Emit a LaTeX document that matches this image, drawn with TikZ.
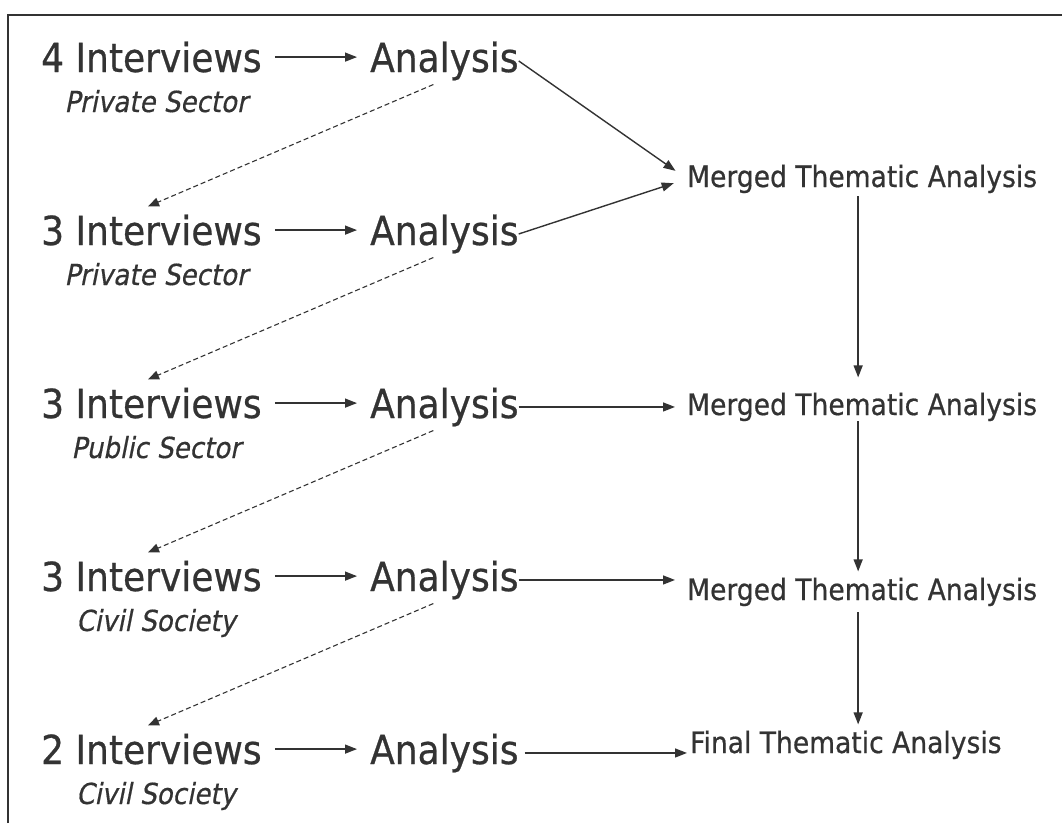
\documentclass[tikz,border=0pt]{standalone}
\usepackage{fontspec}
\usepackage{tikz}
\usetikzlibrary{arrows.meta}
\usepackage{xcolor}
\setmainfont[FakeStretch=0.9,FakeBold=0.6]{DejaVu Sans}
\newfontfamily\slfont[FakeStretch=0.9,FakeSlant=0.2,FakeBold=0.5]{DejaVu Sans}
\definecolor{ink}{HTML}{333333}

\begin{document}
\begin{tikzpicture}[x=1pt,y=-1pt,
  big/.style={inner sep=0pt,text=ink,font=\fontsize{40}{48}\selectfont},
  sub/.style={inner sep=0pt,text=ink,font=\slfont\fontsize{29}{35}\selectfont},
  mta/.style={inner sep=0pt,text=ink,font=\fontsize{29.5}{35}\selectfont},
  arr/.style={draw=ink,line width=1.4pt,-{Triangle[length=12pt,width=9pt]}},
  dasharr/.style={draw=ink,line width=1.1pt,dash pattern=on 5pt off 3pt,-{Triangle[length=11pt,width=9pt]}}]
 \pgfmathsetmacro{\dy}{173}
 \useasboundingbox (0,0) rectangle (1062,823);
 \draw[ink,line width=1.8pt] (8,823) -- (8,15) -- (1062,15);

 \foreach \n/\k/\who in {1/4/Private Sector,2/3/Private Sector,3/3/Public Sector,4/3/Civil Society,5/2/Civil Society}{
  \pgfmathsetmacro{\yb}{72+(\n-1)*\dy}
  \node[big,anchor=base west] (int\n) at (41,\yb) {\k{} Interviews};
  \node[big,anchor=base west] (ana\n) at (370,\yb) {Analysis};
  \node[sub,anchor=base] (sec\n) at (156,\yb+40) {\who};
  \draw[arr,shorten <=13pt,shorten >=13pt] (int\n.east) -- (int\n.east -| ana\n.west);
 }

 \foreach \n in {1,...,4}{
  \pgfmathsetmacro{\m}{int(\n+1)}
  \draw[dasharr] ([xshift=-11pt,yshift=-4pt]ana\n.south) -- ([xshift=107pt,yshift=8pt]int\m.north west);
 }

 \node[mta,anchor=base west] (mta1) at (687,187) {Merged Thematic Analysis};
 \node[mta,anchor=base west] (mta2) at (687,415) {Merged Thematic Analysis};
 \node[mta,anchor=base west] (mta3) at (687,600) {Merged Thematic Analysis};
 \node[mta,anchor=base west] (fta) at (690,753) {Final Thematic Analysis};

 \draw[arr,shorten >=14pt] (ana1.east) -- (mta1.west);
 \draw[arr,shorten >=14pt] (ana2.east) -- (mta1.west);
 \draw[arr,shorten >=12pt] (ana3.east) -- (ana3.east -| mta2.west);
 \draw[arr,shorten >=12pt] (ana4.east) -- (ana4.east -| mta3.west);
 \draw[arr,shorten <=6pt,shorten >=3pt] (ana5.east) -- (ana5.east -| fta.west);

 \draw[arr,shorten <=3pt,shorten >=15pt] ([xshift=-4pt]mta1.south) -- ([xshift=-4pt]mta2.north);
 \draw[arr,shorten >=6pt] ([xshift=-4pt]mta2.south) -- ([xshift=-4pt]mta3.north);
 \draw[arr,shorten <=6pt,shorten >=6pt] ([xshift=-4pt]mta3.south) -- ([xshift=-4pt]mta3.south |- fta.north);
\end{tikzpicture}
\end{document}
